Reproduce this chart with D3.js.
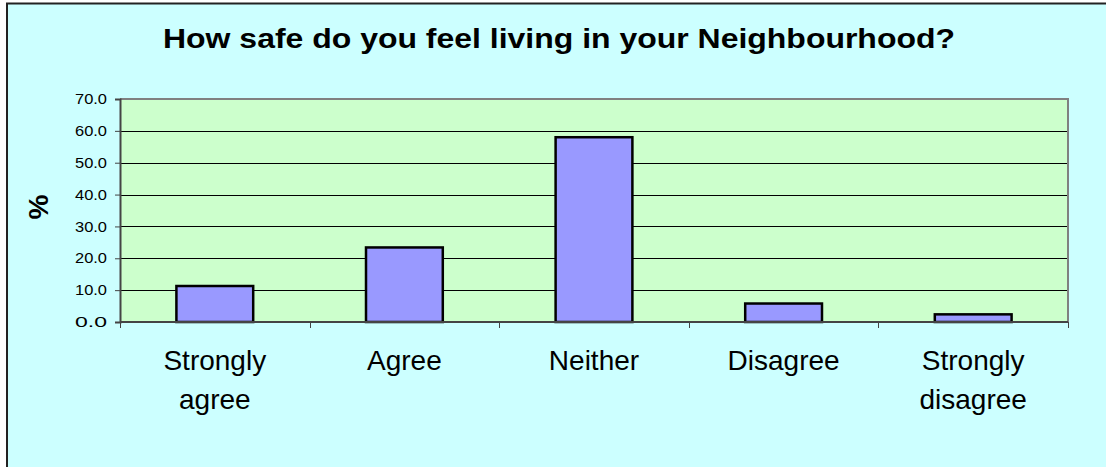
<!DOCTYPE html>
<html>
<head>
<meta charset="utf-8">
<script src="https://cdn.jsdelivr.net/npm/d3@7"></script>
<style>
  body { margin: 0; background: #fff; }
  svg { display: block; font-family: "Liberation Sans", Arial, sans-serif; }
</style>
</head>
<body>
<div id="chart"></div>
<script>
// data
const categories = ["Strongly agree", "Agree", "Neither", "Disagree", "Strongly disagree"];
const labelLines = [["Strongly", "agree"], ["Agree"], ["Neither"], ["Disagree"], ["Strongly", "disagree"]];
const values = [11.3, 23.4, 58.0, 5.8, 2.4];
const yTicks = [0, 10, 20, 30, 40, 50, 60, 70];

const width = 1106, height = 467;
const plot = { left: 120, top: 99, right: 1068, bottom: 322 };

const svg = d3.select("#chart")
  .append("svg")
  .attr("width", width)
  .attr("height", height);

// chart frame
svg.append("rect")
  .attr("x", 7).attr("y", 3.5)
  .attr("width", width + 10).attr("height", height + 10)
  .attr("fill", "#ccffff")
  .attr("stroke", "#222")
  .attr("stroke-width", 2);

svg.append("text")
  .attr("x", 559).attr("y", 48)
  .attr("text-anchor", "middle")
  .attr("font-size", 28)
  .attr("font-weight", "bold")
  .attr("textLength", 792)
  .attr("lengthAdjust", "spacingAndGlyphs")
  .text("How safe do you feel living in your Neighbourhood?");

const x = d3.scaleBand()
  .domain(categories)
  .range([plot.left, plot.right])
  .paddingInner(0.595)
  .paddingOuter(0.2975);

const y = d3.scaleLinear()
  .domain([0, 70])
  .range([plot.bottom, plot.top]);

// plot area
svg.append("rect")
  .attr("x", plot.left).attr("y", plot.top)
  .attr("width", plot.right - plot.left)
  .attr("height", plot.bottom - plot.top)
  .attr("fill", "#ccffcc");

// gridlines
svg.append("g")
  .selectAll("line")
  .data(yTicks.filter(d => d > 0 && d < 70))
  .enter()
  .append("line")
  .attr("x1", plot.left).attr("x2", plot.right)
  .attr("y1", d => Math.round(y(d)) + 0.5)
  .attr("y2", d => Math.round(y(d)) + 0.5)
  .attr("stroke", "#000")
  .attr("stroke-width", 1);

// top and right borders of plot
svg.append("path")
  .attr("d", `M${plot.left},${plot.top} H${plot.right} V${plot.bottom}`)
  .attr("fill", "none")
  .attr("stroke", "#808080")
  .attr("stroke-width", 2);

// bars
svg.append("g")
  .selectAll("rect")
  .data(values)
  .enter()
  .append("rect")
  .attr("x", (d, i) => x(categories[i]))
  .attr("y", d => y(d))
  .attr("width", x.bandwidth())
  .attr("height", d => y(0) - y(d))
  .attr("fill", "#9999ff")
  .attr("stroke", "#000")
  .attr("stroke-width", 2.5);

// y axis
const yAxis = svg.append("g")
  .attr("transform", `translate(${plot.left},0)`)
  .call(d3.axisLeft(y).tickValues(yTicks).tickFormat(d3.format(".1f")).tickSize(5).tickPadding(8));
yAxis.select(".domain").attr("stroke", "#444").attr("stroke-width", 2);
yAxis.selectAll(".tick line").attr("stroke", "#444");
yAxis.selectAll(".tick text")
  .attr("font-size", 14.5)
  .attr("font-family", "Liberation Sans, Arial, sans-serif")
  .attr("fill", "#000")
  .attr("textLength", 32)
  .attr("lengthAdjust", "spacingAndGlyphs");

// x axis
const boundaries = d3.range(categories.length + 1).map(i => plot.left + i * (plot.right - plot.left) / categories.length);
svg.append("line")
  .attr("x1", plot.left).attr("x2", plot.right)
  .attr("y1", plot.bottom).attr("y2", plot.bottom)
  .attr("stroke", "#444").attr("stroke-width", 2);
svg.append("g")
  .selectAll("line")
  .data(boundaries)
  .enter()
  .append("line")
  .attr("x1", d => Math.round(d) + 0.5).attr("x2", d => Math.round(d) + 0.5)
  .attr("y1", plot.bottom).attr("y2", plot.bottom + 6)
  .attr("stroke", "#444");

const labels = svg.append("g")
  .selectAll("text")
  .data(labelLines)
  .enter()
  .append("text")
  .attr("text-anchor", "middle")
  .attr("font-size", 28)
  .attr("x", (d, i) => x(categories[i]) + x.bandwidth() / 2);
labels.selectAll("tspan")
  .data(d => d)
  .enter()
  .append("tspan")
  .attr("x", function () { return d3.select(this.parentNode).attr("x"); })
  .attr("y", (d, i) => 370 + i * 39)
  .text(d => d);

// y axis title
svg.append("text")
  .attr("transform", "translate(48,207) rotate(-90)")
  .attr("text-anchor", "middle")
  .attr("font-size", 28)
  .attr("font-weight", "bold")
  .text("%");
</script>
</body>
</html>
